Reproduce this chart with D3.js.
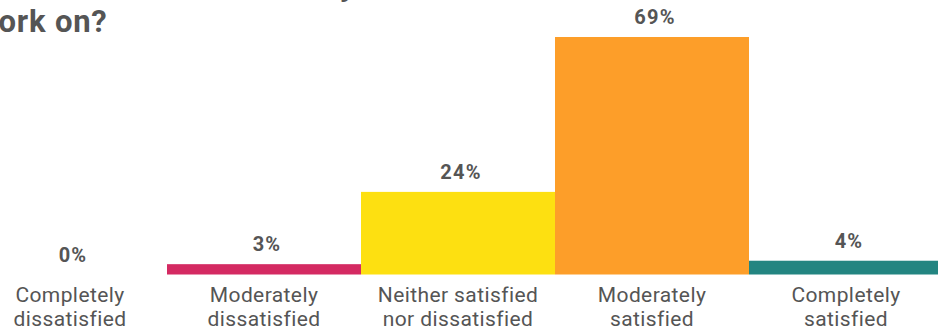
<!DOCTYPE html>
<html>
<head>
<meta charset="utf-8">
<script src="https://cdn.jsdelivr.net/npm/d3@7"></script>
<style>
body { margin: 0; background: #fff; overflow: hidden; }
svg { display: block; }
</style>
</head>
<body>
<svg id="chart" width="938" height="331"></svg>
<script>
var categories = [["Completely", "dissatisfied"], ["Moderately", "dissatisfied"], ["Neither satisfied", "nor dissatisfied"], ["Moderately", "satisfied"], ["Completely", "satisfied"]];
var values = [0, 3, 24, 69, 4];
var colors = ["#d42a62", "#d42a62", "#fde011", "#fd9e29", "#238581"];
var titleLines = ["How satisfied are you with the", "work on?"];

var svg = d3.select("#chart");
var keys = categories.map(function(d) { return d.join(" "); });

var x = d3.scaleBand().domain(keys).range([-27, 943]).padding(0);
var y = d3.scaleLinear().domain([0, 69]).range([274.5, 37]);

// title, first line mostly above the top edge
var title = svg.append("text")
    .style("font-family", "Roboto, sans-serif")
    .style("font-weight", "bold")
    .style("font-size", "31px")
    .style("letter-spacing", "0.8px")
    .style("fill", "#555");

title.append("tspan")
    .attr("x", 75)
    .attr("y", -4)
    .text(titleLines[0]);
title.append("tspan")
    .attr("x", -25)
    .attr("y", 32)
    .text(titleLines[1]);

svg.selectAll(".bar")
    .data(values)
  .enter().append("rect")
    .attr("class", "bar")
    .attr("x", function(d, i) { return x(keys[i]); })
    .attr("width", x.bandwidth())
    .attr("y", function(d) { return y(d); })
    .attr("height", function(d) { return y(0) - y(d); })
    .style("fill", function(d, i) { return colors[i]; });

svg.selectAll(".val")
    .data(values)
  .enter().append("text")
    .attr("class", "val")
    .attr("x", function(d, i) { return x(keys[i]) + x.bandwidth() / 2 + 3; })
    .attr("y", function(d) { return y(d) - 13; })
    .attr("text-anchor", "middle")
    .style("font-family", "Roboto, sans-serif")
    .style("font-weight", "bold")
    .style("font-size", "20px")
    .style("letter-spacing", "1.2px")
    .style("fill", "#555")
    .text(function(d) { return d + "%"; });

var labels = svg.selectAll(".cat")
    .data(categories)
  .enter().append("text")
    .attr("class", "cat")
    .attr("text-anchor", "middle")
    .style("font-family", "Roboto, sans-serif")
    .style("font-size", "21px")
    .style("letter-spacing", "0.4px")
    .style("fill", "#555");

labels.selectAll("tspan")
    .data(function(d, i) { return d.map(function(t) { return {t: t, k: keys[i]}; }); })
  .enter().append("tspan")
    .attr("x", function(d) { return x(d.k) + x.bandwidth() / 2; })
    .attr("y", function(d, j) { return 302 + j * 24; })
    .text(function(d) { return d.t; });
</script>
</body>
</html>
